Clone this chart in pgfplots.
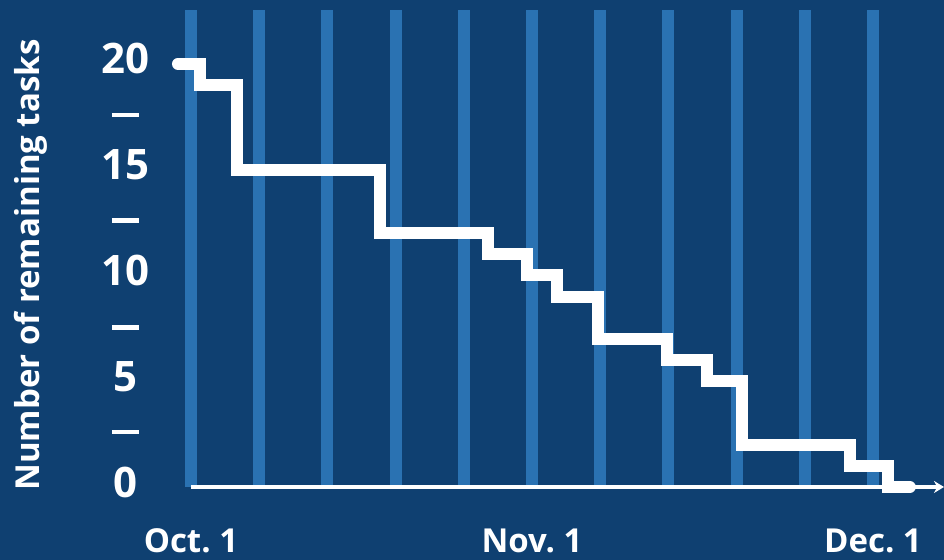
\documentclass[border=0pt]{standalone}
\usepackage{pgfplots}
\pgfplotsset{compat=1.18}
\usetikzlibrary{arrows.meta}
\usepackage{fontspec}
\setmainfont{Open Sans}
\definecolor{bg}{RGB}{15,64,113}
\definecolor{stripe}{RGB}{42,114,178}
\begin{document}
\begin{tikzpicture}
\fill[bg] (-85.25pt,-36.5pt) rectangle (386.75pt,243.5pt);
\begin{axis}[
  at={(0,0)}, anchor=south west,
  scale only axis, width=386.75pt, height=238.5pt,
  xmin=-0.3, xmax=11.041, ymin=0, ymax=22.55,
  clip=false,
  axis line style={draw=none},
  major tick length=0pt, minor tick length=0pt,
  xtick={0,1,2,3,4,5,6,7,8,9,10},
  xticklabels={Oct.\ 1,,,,,Nov.\ 1,,,,,Dec.\ 1},
  xmajorgrids,
  major x grid style={stripe, line width=6pt},
  ytick={0,5,10,15,20},
  yticklabels={0,5,10,15,20},
  extra y ticks={2.36,7.31,12.36,17.36},
  extra y tick labels={\rule{13.5pt}{2.2pt},\rule{13.5pt}{2.2pt},\rule{13.5pt}{2.2pt},\rule{13.5pt}{2.2pt}},
  yticklabel style={anchor=center, xshift=-22.5pt, yshift=2.5pt, text=white, font=\bfseries\fontsize{21}{21}\selectfont},
  xticklabel style={anchor=base, yshift=-33pt, text=white, font=\bfseries\fontsize{16.5}{16.5}\selectfont},
  ylabel={Number of remaining tasks},
  ylabel style={at={(axis description cs:-0.1804,0.4654)}, anchor=center, rotate=0, text=white, font=\bfseries\fontsize{16.5}{16.5}\selectfont},
]
\draw[white, line width=2pt, -{Stealth[length=5pt,width=6pt]}] (axis cs:0,0) -- (axis cs:11.041,0);
\addplot[white, line width=6pt, const plot, line cap=round, line join=miter] coordinates {
  (-0.19,20) (0.13,19) (0.67,15) (2.77,12) (4.35,11) (4.93,10) (5.37,9)
  (5.97,7) (6.98,6) (7.57,5) (8.08,2) (9.66,1) (10.22,0) (10.54,0)
};
\end{axis}
\pgfresetboundingbox
\path[use as bounding box] (-85.25pt,-36.5pt) rectangle (386.75pt,243.5pt);
\end{tikzpicture}
\end{document}
